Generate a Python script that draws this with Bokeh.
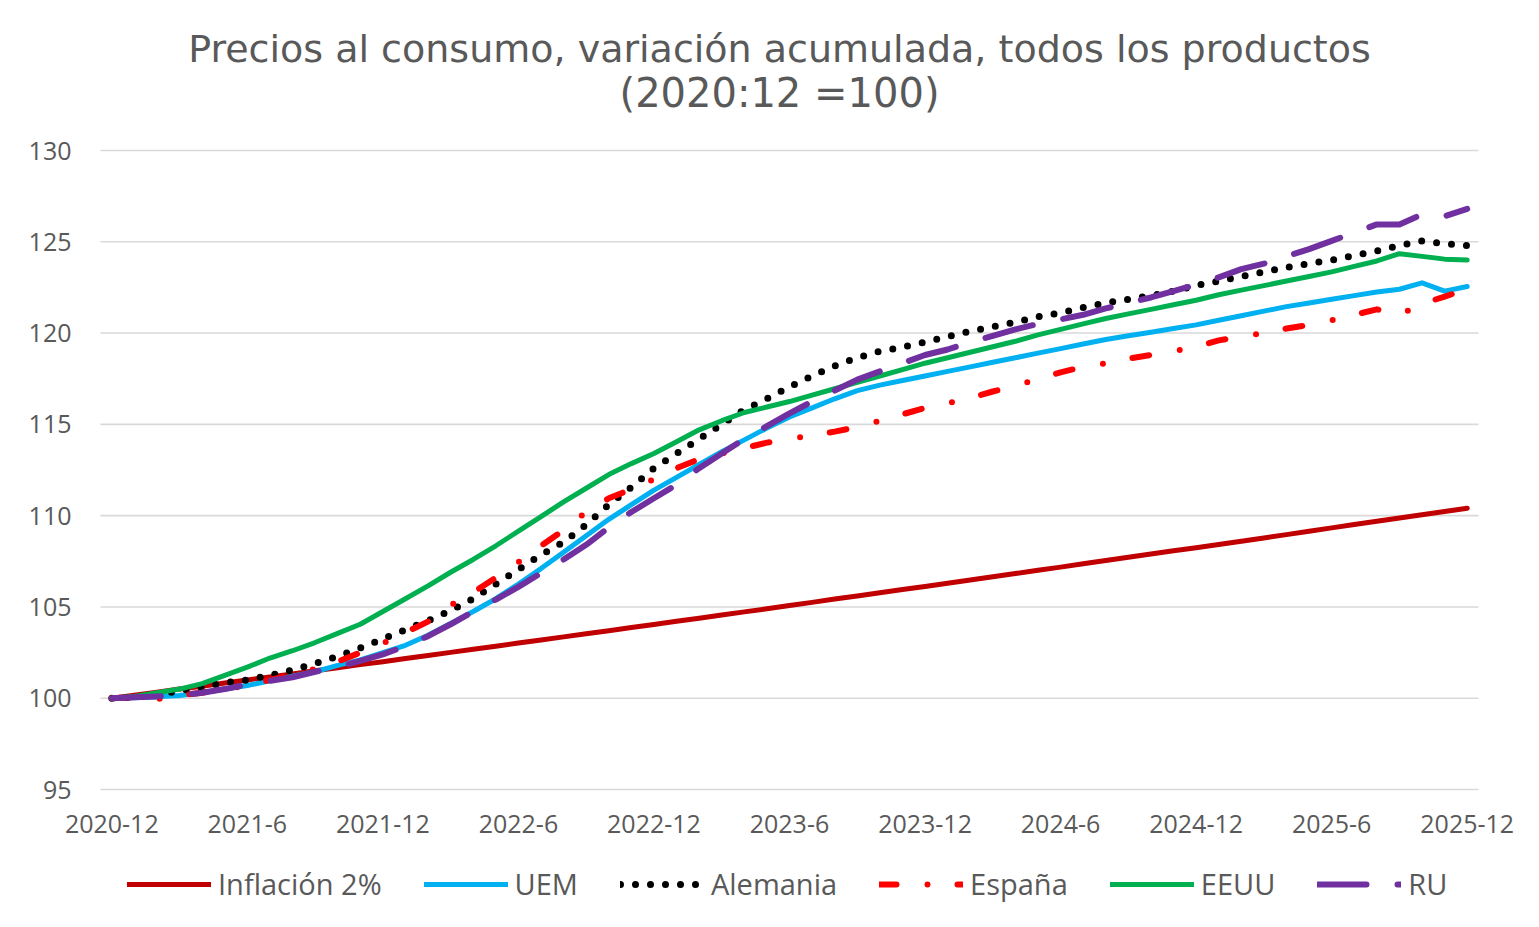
from bokeh.plotting import figure
from bokeh.models import Legend, LegendItem, FixedTicker, Label, Range1d
from bokeh.embed import file_html
from bokeh.resources import INLINE

# ---------------- data (monthly, 2020-12 .. 2025-12) ----------------
tick_pos = [0, 6, 12, 18, 24, 30, 36, 42, 48, 54, 60]
tick_labels = ["2020-12", "2021-6", "2021-12", "2022-6", "2022-12", "2023-6",
               "2023-12", "2024-6", "2024-12", "2025-6", "2025-12"]
y_ticks = [95, 100, 105, 110, 115, 120, 125, 130]

inflacion = [100.00, 100.17, 100.33, 100.50, 100.66, 100.83, 101.00, 101.16, 101.33, 101.50, 101.67, 101.84,
             102.00, 102.17, 102.34, 102.51, 102.68, 102.85, 103.02, 103.19, 103.36, 103.53, 103.70, 103.87,
             104.04, 104.21, 104.38, 104.56, 104.73, 104.90, 105.08, 105.25, 105.43, 105.60, 105.78, 105.95,
             106.12, 106.30, 106.48, 106.65, 106.83, 107.01, 107.18, 107.36, 107.54, 107.72, 107.90, 108.08,
             108.24, 108.42, 108.60, 108.78, 108.96, 109.14, 109.33, 109.51, 109.69, 109.87, 110.05, 110.23, 110.41]

uem = [100.0, 100.03, 100.08, 100.15, 100.3, 100.5, 100.7, 100.95, 101.2, 101.45, 101.8, 102.1,
       102.5, 102.9, 103.45, 104.1, 104.75, 105.45, 106.25, 107.1, 108.0, 108.9, 109.8, 110.6,
       111.4, 112.1, 112.8, 113.5, 114.15, 114.8, 115.4, 115.9, 116.4, 116.85, 117.15, 117.4,
       117.65, 117.9, 118.15, 118.4, 118.65, 118.9, 119.15, 119.4, 119.65, 119.85, 120.05, 120.25,
       120.45, 120.7, 120.95, 121.2, 121.45, 121.65, 121.85, 122.05, 122.25, 122.4, 122.75, 122.3, 122.55]

alemania = [100.0, 100.05, 100.2, 100.4, 100.6, 100.85, 101.0, 101.25, 101.55, 101.9, 102.3, 102.75,
            103.25, 103.75, 104.25, 104.8, 105.45, 106.25, 107.05, 107.85, 108.55, 109.5, 110.6, 111.55,
            112.6, 113.4, 114.2, 115.0, 115.8, 116.4, 117.05, 117.65, 118.2, 118.65, 119.0, 119.23,
            119.5, 119.8, 120.1, 120.35, 120.6, 120.9, 121.1, 121.4, 121.65, 121.85, 122.05, 122.3,
            122.6, 122.85, 123.1, 123.35, 123.6, 123.8, 124.0, 124.25, 124.5, 124.8, 125.05, 124.9, 124.8]

espana = [100.0, 100.05, 99.95, 100.15, 100.3, 100.5, 100.7, 101.0, 101.3, 101.6, 102.0, 102.5,
          103.0, 103.6, 104.2, 105.1, 105.8, 106.6, 107.45, 108.35, 109.2, 110.2, 110.95, 111.45,
          112.0, 112.6, 113.1, 113.4, 113.7, 114.0, 114.2, 114.4, 114.6, 114.85, 115.2, 115.55,
          115.9, 116.15, 116.45, 116.8, 117.1, 117.5, 117.85, 118.15, 118.35, 118.6, 118.8, 119.0,
          119.25, 119.6, 119.8, 120.0, 120.25, 120.45, 120.7, 121.0, 121.3, 121.0, 121.6, 122.0, 122.4]

eeuu = [100.0, 100.1, 100.3, 100.5, 100.8, 101.25, 101.7, 102.2, 102.6, 103.05, 103.55, 104.05,
        104.75, 105.45, 106.15, 106.9, 107.6, 108.35, 109.15, 109.95, 110.75, 111.5, 112.25, 112.85,
        113.4, 114.05, 114.7, 115.2, 115.65, 115.95, 116.25, 116.6, 116.95, 117.3, 117.65, 118.0,
        118.35, 118.65, 118.95, 119.25, 119.55, 119.9, 120.2, 120.5, 120.8, 121.05, 121.3, 121.55,
        121.8, 122.1, 122.35, 122.6, 122.85, 123.1, 123.35, 123.65, 123.95, 124.35, 124.2, 124.05, 124.0]

ru = [100.0, 100.05, 100.1, 100.15, 100.3, 100.5, 100.75, 100.95, 101.15, 101.45, 101.7, 102.05,
      102.4, 102.85, 103.4, 104.05, 104.75, 105.4, 106.1, 106.85, 107.6, 108.4, 109.35, 110.2,
      110.95, 111.7, 112.6, 113.4, 114.2, 114.9, 115.6, 116.25, 116.85, 117.45, 117.9, 118.35,
      118.8, 119.1, 119.5, 119.85, 120.2, 120.5, 120.75, 121.0, 121.35, 121.65, 121.95, 122.3,
      122.65, 123.05, 123.5, 123.8, 124.2, 124.6, 125.05, 125.5, 125.95, 125.95, 126.5, 126.4, 126.8]

x = list(range(len(inflacion)))

# ---------------- layout (pixels) ----------------
W, H = 1539, 927
PLOT_L, PLOT_R = 100, 1478            # pixel columns of the category band edges
PLOT_T, PLOT_B = 150, 789             # pixel rows of 130 and 95
X0, X1 = -0.5, len(x) - 0.5
Y_MIN, Y_MAX = 95, 130
ppx = (PLOT_R - PLOT_L) / (X1 - X0)
ppy = (PLOT_B - PLOT_T) / (Y_MAX - Y_MIN)
# the frame fills the whole canvas; axes are pinned at the plot-area edges
x_range = Range1d(X0 - PLOT_L / ppx, X1 + (W - PLOT_R) / ppx)
y_range = Range1d(Y_MIN - (H - PLOT_B) / ppy, Y_MAX + PLOT_T / ppy)

FONT = "Open Sans"
GREY = "#595959"

p = figure(width=W, height=H, output_backend="svg", toolbar_location=None,
           x_range=x_range, y_range=y_range,
           min_border_left=0, min_border_right=0, min_border_top=0, min_border_bottom=0)
p.title.visible = False
p.outline_line_color = None
p.background_fill_color = "white"
p.border_fill_color = "white"

# title (two centred lines)
p.add_layout(Label(x=779, y=H - 48, x_units="screen", y_units="screen",
                   text="Precios al consumo, variación acumulada, todos los productos",
                   text_align="center", text_baseline="middle", text_font="DejaVu Sans",
                   text_font_size="38px", text_color=GREY))
p.add_layout(Label(x=779, y=H - 92, x_units="screen", y_units="screen",
                   text="(2020:12 =100)",
                   text_align="center", text_baseline="middle", text_font="DejaVu Sans",
                   text_font_size="40px", text_color=GREY))

# axes
p.xaxis.ticker = FixedTicker(ticks=tick_pos)
p.xaxis.major_label_overrides = {t: l for t, l in zip(tick_pos, tick_labels)}
p.xaxis.fixed_location = Y_MIN
p.yaxis.ticker = FixedTicker(ticks=y_ticks)
p.yaxis.fixed_location = X0
for ax in (p.xaxis, p.yaxis):
    ax.axis_line_color = None
    ax.major_tick_line_color = None
    ax.minor_tick_line_color = None
    ax.major_label_text_font = FONT
    ax.major_label_text_font_size = "25px"
    ax.major_label_text_color = GREY
p.xaxis.major_label_standoff = 19
p.yaxis.major_label_standoff = 23
p.xgrid.visible = False
p.ygrid.visible = False

# horizontal gridlines across the plot area only
p.segment(x0=[X0] * len(y_ticks), x1=[X1] * len(y_ticks), y0=y_ticks, y1=y_ticks,
          line_color="#D9D9D9", line_width=1.6)

# series
r_inf = p.line(x, inflacion, line_color="#C00000", line_width=5, line_cap="round", line_join="round")
r_uem = p.line(x, uem, line_color="#00B0F0", line_width=5, line_cap="round", line_join="round")
r_ale = p.line(x, alemania, line_color="black", line_width=7, line_cap="round", line_join="round",
               line_dash="0 15")
r_esp = p.line(x, espana, line_color="#FF0000", line_width=6, line_cap="round", line_join="round",
               line_dash="17 31 0 30")
r_eeu = p.line(x, eeuu, line_color="#00B050", line_width=5, line_cap="round", line_join="round")
r_ru = p.line(x, ru, line_color="#7030A0", line_width=6, line_cap="round", line_join="round",
              line_dash="49 31")

legend = Legend(items=[
    LegendItem(label="Inflación 2%", renderers=[r_inf]),
    LegendItem(label="UEM", renderers=[r_uem]),
    LegendItem(label="Alemania", renderers=[r_ale]),
    LegendItem(label="España", renderers=[r_esp]),
    LegendItem(label="EEUU", renderers=[r_eeu]),
    LegendItem(label="RU", renderers=[r_ru]),
], orientation="horizontal", location=(127, 24))
legend.glyph_width = 84
legend.label_standoff = 7
legend.spacing = 42
legend.padding = 0
legend.margin = 0
legend.border_line_color = None
legend.background_fill_alpha = 0
legend.label_text_font = FONT
legend.label_text_font_size = "29px"
legend.label_text_color = GREY
p.add_layout(legend, "center")

open("out.html", "w").write(file_html(p, INLINE))
